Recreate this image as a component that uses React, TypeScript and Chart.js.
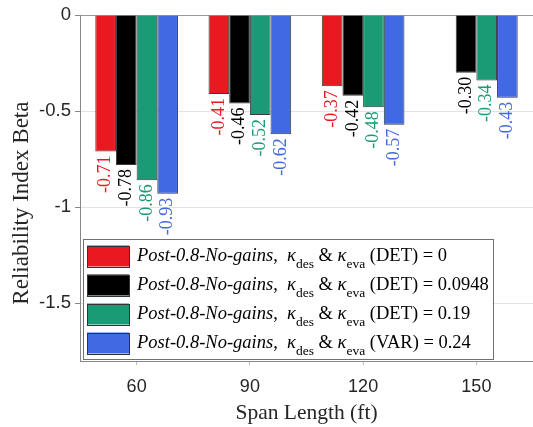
import React, { useEffect, useRef } from "react";
import { Chart, registerables } from "chart.js";

Chart.register(...registerables);

const categories = ["60", "90", "120", "150"];
const seriesSuffixes = ["(DET) = 0", "(DET) = 0.0948", "(DET) = 0.19", "(VAR) = 0.24"];
const seriesDet0: (number | null)[] = [-0.71, -0.41, -0.37, null];
const seriesDet0948: (number | null)[] = [-0.78, -0.46, -0.42, -0.3];
const seriesDet019: (number | null)[] = [-0.86, -0.52, -0.48, -0.34];
const seriesVar024: (number | null)[] = [-0.93, -0.62, -0.57, -0.43];
const yTickValues = [0, -0.5, -1, -1.5];
const seriesColors = ["#e8191f", "#000000", "#1b9a76", "#4169e1"];
const yTitle = "Reliability Index Beta";
const xTitle = "Span Length (ft)";

const SERIF = '"Liberation Serif", "Times New Roman", serif';
const SANS = '"Liberation Sans", Arial, sans-serif';

const valueLabelPlugin = {
  id: "valueLabels",
  afterDatasetsDraw(chart: any) {
    const { ctx } = chart;
    chart.data.datasets.forEach((ds: any, di: number) => {
      const meta = chart.getDatasetMeta(di);
      meta.data.forEach((el: any, i: number) => {
        const v = ds.data[i];
        if (v === null || v === undefined) return;
        ctx.save();
        ctx.translate(el.x, el.y + 4);
        ctx.rotate(-Math.PI / 2);
        ctx.font = `18px ${SERIF}`;
        ctx.fillStyle = seriesColors[di];
        ctx.textAlign = "right";
        ctx.textBaseline = "middle";
        ctx.fillText(Number(v).toFixed(2), 0, 0);
        ctx.restore();
      });
    });
  },
};

const yTitlePlugin = {
  id: "yTitle",
  afterDraw(chart: any) {
    const { ctx, chartArea } = chart;
    ctx.save();
    ctx.translate(22, chartArea.top + 188);
    ctx.rotate(-Math.PI / 2);
    ctx.font = `23px ${SERIF}`;
    ctx.fillStyle = "#262626";
    ctx.textAlign = "center";
    ctx.textBaseline = "middle";
    ctx.fillText(yTitle, 0, 0);
    ctx.restore();
  },
};

const customLegendPlugin = {
  id: "customLegend",
  afterDraw(chart: any) {
    const { ctx, chartArea } = chart;
    const italic = `italic 18.5px ${SERIF}`;
    const normal = `18.5px ${SERIF}`;
    const sub = `13.5px ${SERIF}`;
    const rows = seriesSuffixes.map((suffix) => [
      { t: "Post-0.8-No-gains", f: italic, dy: 0 },
      { t: ",  ", f: normal, dy: 0 },
      { t: "κ", f: italic, dy: 0 },
      { t: "des", f: sub, dy: 8 },
      { t: " & ", f: normal, dy: 0 },
      { t: "κ", f: italic, dy: 0 },
      { t: "eva", f: sub, dy: 8 },
      { t: " " + suffix, f: normal, dy: 0 },
    ]);
    ctx.save();
    let maxW = 0;
    rows.forEach((segs) => {
      let w = 0;
      segs.forEach((s) => {
        ctx.font = s.f;
        w += ctx.measureText(s.t).width;
      });
      maxW = Math.max(maxW, w);
    });
    const boxLeft = chartArea.left + 3;
    const boxBottom = chartArea.bottom - 2;
    const boxH = 120;
    const boxTop = boxBottom - boxH;
    const swatchLeft = boxLeft + 4;
    const swatchW = 42;
    const swatchH = 21;
    const textLeft = swatchLeft + swatchW + 8;
    const boxRight = textLeft + maxW + 4;
    ctx.fillStyle = "#ffffff";
    ctx.fillRect(boxLeft, boxTop, boxRight - boxLeft, boxH);
    ctx.strokeStyle = "#707070";
    ctx.lineWidth = 1;
    ctx.strokeRect(Math.round(boxLeft) + 0.5, Math.round(boxTop) + 0.5, Math.round(boxRight - boxLeft), boxH);
    rows.forEach((segs, i) => {
      const cy = boxTop + 17 + i * 29;
      ctx.fillStyle = seriesColors[i];
      ctx.fillRect(swatchLeft, cy - swatchH / 2, swatchW, swatchH);
      ctx.strokeStyle = "#333333";
      ctx.strokeRect(swatchLeft + 0.5, Math.round(cy - swatchH / 2) + 0.5, swatchW, swatchH);
      let x = textLeft;
      ctx.fillStyle = "#000000";
      ctx.textBaseline = "middle";
      ctx.textAlign = "left";
      segs.forEach((s) => {
        ctx.font = s.f;
        ctx.fillText(s.t, x, cy + s.dy);
        x += ctx.measureText(s.t).width;
      });
    });
    ctx.restore();
  },
};

export default function App() {
  const canvasRef = useRef<HTMLCanvasElement | null>(null);

  useEffect(() => {
    if (!canvasRef.current) return;
    const allSeries = [seriesDet0, seriesDet0948, seriesDet019, seriesVar024];
    const chart = new Chart(canvasRef.current, {
      type: "bar",
      data: {
        labels: categories,
        datasets: allSeries.map((d, i) => ({
          label: seriesSuffixes[i],
          data: d,
          backgroundColor: seriesColors[i],
          borderColor: "#3a3a3a",
          borderWidth: 1,
          categoryPercentage: 0.73,
          barPercentage: 1,
        })),
      },
      options: {
        animation: false,
        responsive: false,
        layout: { padding: { top: 12, right: -3, left: 0, bottom: 0 } },
        plugins: {
          legend: { display: false },
          tooltip: { enabled: false },
        },
        scales: {
          x: {
            afterFit: (s: any) => {
              s.height = 66;
            },
            grid: {
              offset: false,
              drawOnChartArea: false,
              drawTicks: true,
              tickLength: 4,
              tickColor: "#bbbbbb",
            },
            border: { color: "#888888" },
            ticks: {
              font: { family: SANS, size: 18 },
              color: "#262626",
              padding: 11,
            },
            title: {
              display: true,
              text: xTitle,
              font: { family: SERIF, size: 21.5 },
              color: "#262626",
              padding: { top: 0, bottom: 1 },
            },
          },
          y: {
            min: -1.8,
            max: 0,
            afterFit: (s: any) => {
              s.width = 80;
            },
            afterBuildTicks: (s: any) => {
              s.ticks = yTickValues.map((v) => ({ value: v }));
            },
            grid: {
              color: (c: any) => (c.tick && c.tick.value === 0 ? "#9a9a9a" : "#e3e3e3"),
              tickColor: "#888888",
              tickLength: 5,
            },
            border: { color: "#888888" },
            ticks: {
              font: { family: SANS, size: 18.5 },
              color: "#262626",
              padding: 4,
              callback: (v: any) => String(v),
            },
            title: { display: false },
          },
        },
      },
      plugins: [valueLabelPlugin, customLegendPlugin, yTitlePlugin],
    } as any);
    return () => chart.destroy();
  }, []);

  return (
    <div style={{ position: "absolute", left: 0, top: 0, width: 533, height: 427, background: "#fff" }}>
      <canvas ref={canvasRef} width={533} height={427} style={{ display: "block" }} />
    </div>
  );
}
